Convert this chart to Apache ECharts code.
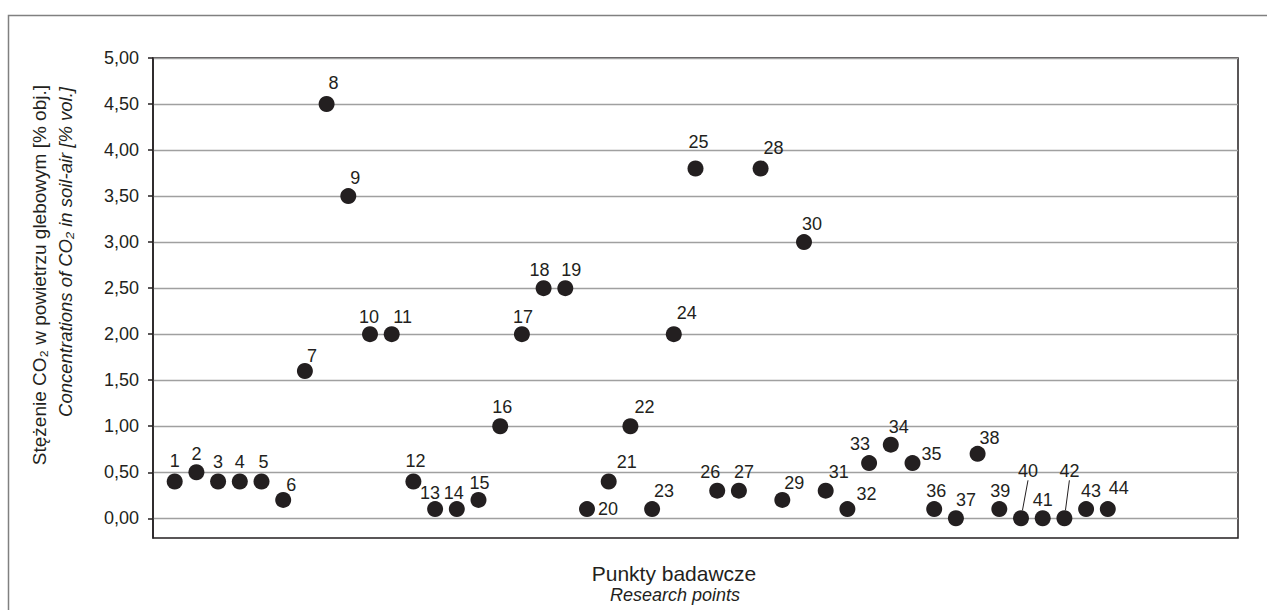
<!DOCTYPE html>
<html>
<head>
<meta charset="utf-8">
<script src="https://cdn.jsdelivr.net/npm/echarts@6/dist/echarts.min.js"></script>
<style>
html,body{margin:0;padding:0;background:#fff;}
#chart{width:1267px;height:610px;}
</style>
</head>
<body>
<div id="chart"></div>
<script>
// ---- data ----
const pointNumbers = [1,2,3,4,5,6,7,8,9,10,11,12,13,14,15,16,17,18,19,20,21,22,23,24,25,26,27,28,29,30,31,32,33,34,35,36,37,38,39,40,41,42,43,44];
const co2Values = [0.4,0.5,0.4,0.4,0.4,0.2,1.6,4.5,3.5,2.0,2.0,0.4,0.1,0.1,0.2,1.0,2.0,2.5,2.5,0.1,0.4,1.0,0.1,2.0,3.8,0.3,0.3,3.8,0.2,3.0,0.3,0.1,0.6,0.8,0.6,0.1,0.0,0.7,0.1,0.0,0.0,0.0,0.1,0.1];
const yTickValues = [0,0.5,1,1.5,2,2.5,3,3.5,4,4.5,5];

// ---- label placement (styling, px offsets from each marker centre) ----
const labelOffsets = {
  1:[0,-20],2:[0,-18],3:[0,-19],4:[0,-19],5:[2,-19],6:[8,-15],7:[7,-15],8:[7,-21],9:[7,-18],
  10:[-1,-17],11:[11,-17],12:[2,-20],13:[-5,-16],14:[-3,-16],15:[1,-17],16:[2,-19],17:[1,-17],
  18:[-4,-18],19:[6,-18],20:[21,0],21:[18,-19],22:[14,-19],23:[12,-18],24:[13,-21],25:[3,-26],
  26:[-7,-19],27:[5,-19],28:[13,-20],29:[12,-17],30:[8,-18],31:[13,-19],32:[19,-15],33:[-9,-19],
  34:[8,-18],35:[19,-9],36:[2,-18],37:[10,-18],38:[12,-16],39:[1,-18],40:[7,-47],41:[0,-18],
  42:[5,-47],43:[5,-18],44:[11,-21]
};
const leaderLinePoints = [40, 42];

const ink = '#231f20';
const font = '"Liberation Sans", Arial, Helvetica, sans-serif';

const seriesData = pointNumbers.map((n, i) => ({
  value: [n, co2Values[i]],
  name: String(n),
  labelLine: { show: leaderLinePoints.indexOf(n) >= 0 }
}));

const chart = echarts.init(document.getElementById('chart'), null, { renderer: 'svg' });
chart.setOption({
  backgroundColor: '#fff',
  animation: false,
  graphic: [
    { type: 'rect', shape: { x: 8.5, y: 15.5, width: 1400, height: 800 },
      style: { fill: 'none', stroke: '#808080', lineWidth: 1.5 }, silent: true },
    { type: 'text', x: 39, y: 85, rotation: Math.PI / 2,
      style: { text: 'Stężenie CO₂ w powietrzu glebowym [% obj.]', fill: ink,
        font: '19px ' + font, textAlign: 'right', textVerticalAlign: 'middle' } },
    { type: 'text', x: 65, y: 87, rotation: Math.PI / 2,
      style: { text: 'Concentrations of CO₂ in soil-air [% vol.]', fill: ink,
        font: 'italic 18.5px ' + font, textAlign: 'right', textVerticalAlign: 'middle' } },
    { type: 'text', x: 674, y: 573,
      style: { text: 'Punkty badawcze', fill: ink, font: '21px ' + font,
        textAlign: 'center', textVerticalAlign: 'middle' } },
    { type: 'text', x: 675, y: 595,
      style: { text: 'Research points', fill: ink, font: 'italic 18px ' + font,
        textAlign: 'center', textVerticalAlign: 'middle' } }
  ],
  grid: {
    left: 153, top: 58, right: 29, bottom: 72,
    show: true, borderColor: ink, borderWidth: 1.5, backgroundColor: 'transparent'
  },
  xAxis: {
    type: 'value', min: 0, max: 50, show: false
  },
  yAxis: {
    type: 'value', min: -0.214, max: 5,
    axisLine: { show: true, lineStyle: { color: ink, width: 1.5 } },
    axisTick: { show: true, inside: false, length: 5, lineStyle: { color: ink, width: 1.5 }, customValues: yTickValues },
    axisLabel: {
      customValues: yTickValues, margin: 14, color: ink, fontSize: 18, fontFamily: font,
      formatter: v => v.toFixed(2).replace('.', ',')
    },
    splitLine: { show: true, lineStyle: { color: '#a0a0a0', width: 1.3 } }
  },
  series: [{
    type: 'scatter',
    data: seriesData,
    symbol: 'circle',
    symbolSize: 16,
    itemStyle: { color: ink, opacity: 1 },
    label: {
      show: true, position: 'inside', color: ink, fontSize: 18, fontFamily: font,
      formatter: p => p.name
    },
    labelLine: { lineStyle: { color: ink, width: 1 } },
    labelLayout: p => {
      const o = labelOffsets[pointNumbers[p.dataIndex]] || [0, -18];
      return { dx: o[0], dy: o[1] };
    },
    z: 3
  }]
});
</script>
</body>
</html>
